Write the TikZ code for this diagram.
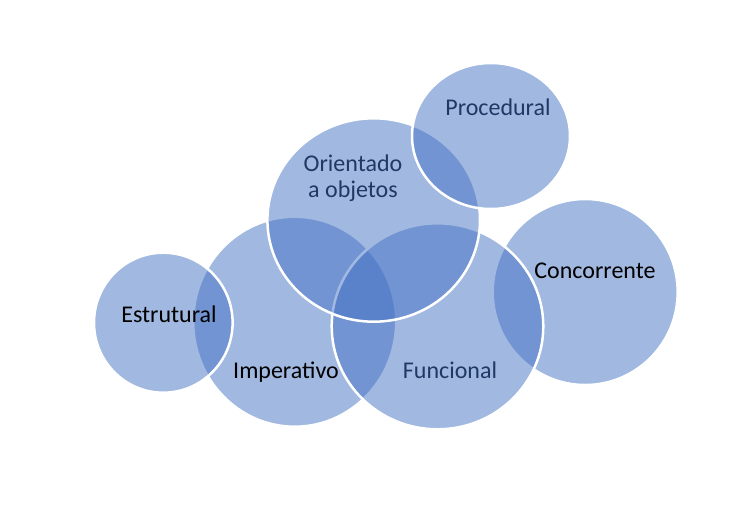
\documentclass[tikz,border=0pt]{standalone}
\usepackage{fontspec}
\setmainfont{Carlito}
\definecolor{vennblue}{HTML}{4472C4}
\definecolor{darktext}{HTML}{203864}
\begin{document}
\begin{tikzpicture}[x=1pt,y=-1pt,
  venn/.style={fill=vennblue,fill opacity=0.5,draw=white,draw opacity=1,line width=2.5pt},
  lbl/.style={font=\fontsize{24}{26}\selectfont,align=center,inner sep=0pt},
  dk/.style={lbl,text=darktext},
  bk/.style={lbl,text=black}]
\useasboundingbox[fill=white] (0,0) rectangle (740,515);
% circles, bottom to top
\path[venn] (585.2,292) ellipse [x radius=92.5,y radius=93];
\path[venn] (294.7,321.7) ellipse [x radius=101.5,y radius=105];
\path[venn] (163.3,322.7) ellipse [x radius=69.3,y radius=70];
\path[venn] (437.5,326.3) ellipse [x radius=105.8,y radius=103];
\path[venn] (373.7,220) ellipse [x radius=106.3,y radius=101.7];
\path[venn] (491,136) ellipse [x radius=79,y radius=73];
% labels
\node[dk] (proc) at (498,107) {Procedural};
\node[dk] (oo) at (353,178) {Orientado\\a objetos};
\node[bk] (conc) at (595,271) {Concorrente};
\node[bk] (estr) at (169,314) {Estrutural};
\node[bk] (imp) at (286,372) {Imperativo};
\node[dk] (func) at (450,370) {Funcional};
\end{tikzpicture}
\end{document}
